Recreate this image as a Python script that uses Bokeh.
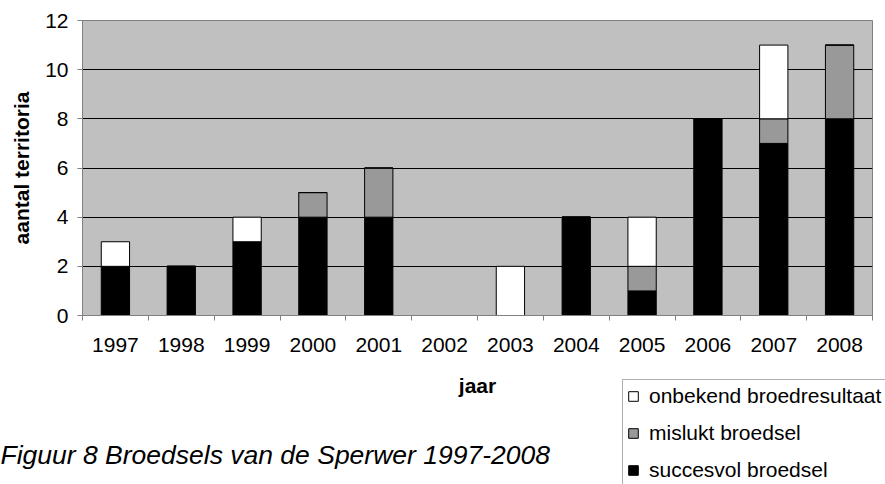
from bokeh.plotting import figure
from bokeh.layouts import column
from bokeh.models import (ColumnDataSource, FixedTicker, Legend, LegendItem, Label, Range1d)
from bokeh.embed import file_html
from bokeh.resources import INLINE

# ---- data ----
years = ["1997", "1998", "1999", "2000", "2001", "2002", "2003", "2004", "2005", "2006", "2007", "2008"]
succesvol = [2, 2, 3, 4, 4, 0, 0, 4, 1, 8, 7, 8]
mislukt = [0, 0, 0, 1, 2, 0, 0, 0, 1, 0, 1, 3]
onbekend = [1, 0, 1, 0, 0, 0, 2, 0, 2, 0, 3, 0]
series_labels = ["succesvol broedsel", "mislukt broedsel", "onbekend broedresultaat"]
series_colors = ["black", "#999999", "white"]
y_ticks = [0, 2, 4, 6, 8, 10, 12]
x_title = "jaar"
y_title = "aantal territoria"
caption = "Figuur 8 Broedsels van de Sperwer 1997-2008"

FONT = "Liberation Sans"
W = 885
H_TOP = 368
H_BOT = 484 - H_TOP

pos = list(range(1, len(years) + 1))
source = ColumnDataSource(dict(x=pos, succesvol=succesvol, mislukt=mislukt, onbekend=onbekend))

# ---------------- main chart ----------------
p = figure(width=W, height=H_TOP, output_backend="svg", toolbar_location=None,
           x_range=Range1d(0.5, len(years) + 0.5), y_range=Range1d(0, 12),
           min_border_left=82, min_border_right=13, min_border_top=20, min_border_bottom=H_TOP - 315)
p.frame_align = False
p.background_fill_color = "#c0c0c0"
p.border_fill_color = "white"
p.outline_line_color = "#808080"
p.outline_line_width = 1

p.vbar_stack(["succesvol", "mislukt", "onbekend"], x="x", width=0.43, source=source,
             fill_color=series_colors, line_color="black", line_width=1)

p.xgrid.visible = False
p.ygrid.ticker = FixedTicker(ticks=y_ticks)
p.ygrid.grid_line_color = "black"
p.ygrid.grid_line_width = 1

p.yaxis.ticker = FixedTicker(ticks=y_ticks)
p.yaxis.minor_tick_line_color = None
p.yaxis.major_tick_in = 0
p.yaxis.major_tick_out = 5
p.yaxis.axis_label = y_title
p.yaxis.axis_label_standoff = 9
p.yaxis.major_label_standoff = 9

p.xaxis.ticker = FixedTicker(ticks=pos, minor_ticks=[i + 0.5 for i in range(0, len(years) + 1)])
p.xaxis.major_label_overrides = {i: y for i, y in zip(pos, years)}
p.xaxis.major_tick_in = 0
p.xaxis.major_tick_out = 0
p.xaxis.minor_tick_in = 0
p.xaxis.minor_tick_out = 5
p.xaxis.minor_tick_line_color = "#808080"
p.xaxis.major_label_standoff = 17

for ax in (p.xaxis[0], p.yaxis[0]):
    ax.axis_line_color = "#808080"
    ax.major_tick_line_color = "#808080"
    ax.major_label_text_font = FONT
    ax.major_label_text_font_size = "21px"
    ax.major_label_text_color = "black"
    ax.axis_label_text_font = FONT
    ax.axis_label_text_font_size = "21px"
    ax.axis_label_text_font_style = "bold"
    ax.axis_label_text_color = "black"

# ---------------- bottom strip: axis title, caption, legend ----------------
q = figure(width=W, height=H_BOT, output_backend="svg", toolbar_location=None,
           x_range=Range1d(0, W), y_range=Range1d(H_BOT, 0),
           x_axis_type=None, y_axis_type=None,
           min_border_left=0, min_border_right=0, min_border_top=0, min_border_bottom=0)
q.frame_align = False
q.outline_line_color = None
q.background_fill_color = "white"
q.border_fill_color = "white"
q.grid.visible = False

# hidden key renderers (same data) so the legend can draw its swatches
key_renderers = q.vbar_stack(["succesvol", "mislukt", "onbekend"], x="x", width=0.43, source=source,
                             fill_color=series_colors, line_color="black", line_width=1)
for r in key_renderers:
    r.visible = False

legend = Legend(items=[LegendItem(label=series_labels[2], renderers=[key_renderers[2]]),
                       LegendItem(label=series_labels[1], renderers=[key_renderers[1]]),
                       LegendItem(label=series_labels[0], renderers=[key_renderers[0]])],
                location=(622, -3))
legend.border_line_color = "#606060"
legend.border_line_width = 1
legend.background_fill_color = "white"
legend.background_fill_alpha = 1
legend.inactive_fill_alpha = 0
legend.label_text_font = FONT
legend.label_text_font_size = "21px"
legend.label_text_color = "black"
legend.glyph_width = 12
legend.glyph_height = 12
legend.label_height = 23
legend.label_standoff = 10
legend.spacing = 13
legend.padding = 4
legend.margin = 0
q.add_layout(legend, "center")

q.add_layout(Label(x=477, y=385 - H_TOP, text=x_title, text_font=FONT, text_font_size="21px",
                   text_font_style="bold", text_align="center", text_baseline="middle",
                   text_color="black"))
q.add_layout(Label(x=0, y=454 - H_TOP, text=caption, text_font=FONT, text_font_size="26.5px",
                   text_font_style="italic", text_align="left", text_baseline="middle",
                   text_color="black"))

layout = column(p, q, spacing=0)
open("out.html", "w").write(file_html(layout, INLINE))
